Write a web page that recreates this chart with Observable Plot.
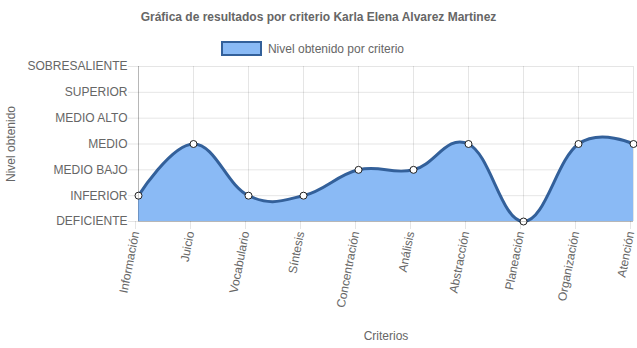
<!DOCTYPE html>
<html><head><meta charset="utf-8">
<script src="https://cdn.jsdelivr.net/npm/d3@7"></script>
<script src="https://cdn.jsdelivr.net/npm/@observablehq/plot@0.6"></script>
<style>
body{margin:0;background:#fff;font-family:"Liberation Sans",Arial,sans-serif;overflow:hidden;}
#wrap{width:637px;}
#title{height:34px;line-height:34px;text-align:center;font-weight:bold;font-size:12px;color:#666;}
#legend{height:24px;display:flex;justify-content:center;align-items:flex-start;font-size:12px;color:#666;padding-right:12px;}
#legend .box{width:37px;height:11px;background:rgba(138,186,245,1);border:2.5px solid #33609a;margin-right:6px;margin-top:7px;box-sizing:content-box;}
#legend span{margin-top:8px;}
#chart svg{overflow:visible;}
</style></head>
<body><div id="wrap">
<div id="title">Gráfica de resultados por criterio Karla Elena Alvarez Martinez</div>
<div id="legend"><div class="box"></div><span>Nivel obtenido por criterio</span></div>
<div id="chart"></div>
</div>
<script>
const criterios = ["Información","Juicio","Vocabulario","Síntesis","Concentración","Análisis","Abstracción","Planeación","Organización","Atención"];
const niveles = [1,3,1,1,2,2,3,0,3,3];
const etiquetasNivel = ["DEFICIENTE","INFERIOR","MEDIO BAJO","MEDIO","MEDIO ALTO","SUPERIOR","SOBRESALIENTE"];
const data = criterios.map((c,i)=>({criterio:c, nivel:niveles[i]}));
const fillColor = "rgb(138,186,245)";
const lineColor = "#33609a";
const chart = Plot.plot({
  width: 637, height: 290,
  marginTop: 8, marginBottom: 127, marginLeft: 138, marginRight: 4,
  style: {fontFamily: '"Liberation Sans", Arial, sans-serif', fontSize: "12px", color: "#666", background: "#fff", overflow: "visible"},
  x: {type: "point", domain: criterios, padding: 0},
  y: {domain: [0, 6]},
  marks: [
    Plot.gridY(d3.range(0,7), {stroke: "#000", strokeOpacity: 0.1, strokeWidth: 1}),
    Plot.gridX(criterios, {stroke: "#000", strokeOpacity: 0.1, strokeWidth: 1}),
    Plot.areaY(data, {x: "criterio", y: "nivel", fill: fillColor, curve: "cardinal", tension: -0.2}),
    Plot.lineY(data, {x: "criterio", y: "nivel", stroke: lineColor, strokeWidth: 3, curve: "cardinal", tension: -0.2}),
    Plot.dot(data, {x: "criterio", y: "nivel", r: 3.5, fill: "#fff", stroke: "#222", strokeWidth: 1}),
    Plot.ruleY([0], {stroke: "#000", strokeOpacity: 0.2}),
    Plot.ruleX([criterios[0]], {stroke: "#000", strokeOpacity: 0.2}),
    Plot.axisY(d3.range(0,7), {tickFormat: d => etiquetasNivel[d], tickSize: 10, tickPadding: 1, stroke: "#000", strokeOpacity: 0.1, fill: "#666", fontSize: 12,
      label: "Nivel obtenido", labelAnchor: "center", labelArrow: "none", labelOffset: 132}),
    Plot.axisX(criterios, {tickRotate: -79, tickSize: 8, tickPadding: 2, dx: -3, stroke: "#000", strokeOpacity: 0.1, fill: "#666", fontSize: 12,
      label: "Criterios", labelAnchor: "center", labelArrow: "none", labelOffset: 118})
  ]
});
document.getElementById("chart").appendChild(chart);
</script>
</body></html>
